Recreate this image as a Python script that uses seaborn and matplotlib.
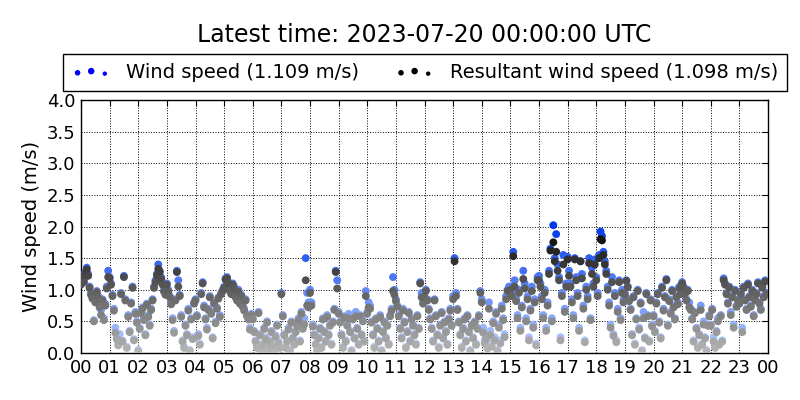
import numpy as np
import pandas as pd
import matplotlib
matplotlib.use("Agg")
import matplotlib.pyplot as plt
import matplotlib.dates as mdates
from matplotlib.colors import LinearSegmentedColormap
from matplotlib.ticker import FormatStrFormatter, MultipleLocator
import seaborn as sns

# ---- data: 3-minute samples, one list of 20 per hour ----
wind_speed_by_hour = [
    [1.10, 1.22, 1.15, 1.28, 1.35, 1.25, 1.05, 0.95, 0.88, 0.52, 0.82, 0.98, 0.90, 0.75, 0.68, 0.85, 0.55, 0.78, 1.05, 1.30],
    [1.20, 1.10, 0.92, 0.70, 0.40, 0.25, 0.15, 0.30, 0.95, 0.20, 1.22, 0.85, 0.10, 0.60, 0.35, 0.80, 1.05, 0.22, 0.65, 0.50],
    [0.05, 0.40, 0.65, 0.72, 0.55, 0.30, 0.78, 0.60, 0.45, 0.70, 0.85, 1.05, 1.15, 1.25, 1.40, 1.30, 1.20, 1.10, 1.00, 0.95],
    [1.10, 1.00, 0.90, 0.80, 0.55, 0.35, 0.85, 1.30, 1.15, 0.92, 0.60, 0.20, 0.10, 0.45, 0.30, 0.70, 0.05, 0.55, 0.25, 0.80],
    [0.85, 0.60, 0.30, 0.15, 0.95, 1.12, 0.75, 0.55, 0.40, 0.70, 0.90, 0.65, 0.25, 0.80, 0.50, 0.72, 0.88, 0.60, 0.95, 1.00],
    [1.05, 1.18, 1.20, 1.12, 1.00, 0.95, 1.10, 1.05, 0.90, 0.85, 1.00, 0.80, 0.92, 0.75, 0.70, 0.85, 0.60, 0.55, 0.40, 0.62],
    [0.55, 0.35, 0.20, 0.10, 0.65, 0.30, 0.05, 0.15, 0.40, 0.25, 0.50, 0.08, 0.20, 0.35, 0.12, 0.02, 0.28, 0.45, 0.18, 0.10],
    [0.95, 0.60, 0.30, 0.10, 0.20, 0.40, 0.05, 0.50, 0.25, 0.15, 0.35, 0.45, 0.55, 0.20, 0.65, 0.40, 0.55, 1.50, 0.95, 0.80],
    [1.00, 0.80, 0.45, 0.30, 0.15, 0.05, 0.25, 0.40, 0.10, 0.55, 0.35, 0.20, 0.60, 0.30, 0.45, 0.15, 0.50, 0.70, 1.30, 1.15],
    [0.65, 0.50, 0.30, 0.10, 0.58, 0.20, 0.45, 0.62, 0.35, 0.05, 0.55, 0.25, 0.65, 0.40, 0.15, 0.60, 0.30, 0.52, 0.20, 0.98],
    [0.65, 0.80, 0.75, 0.50, 0.30, 0.10, 0.55, 0.40, 0.20, 0.60, 0.05, 0.35, 0.50, 0.25, 0.45, 0.15, 0.60, 0.70, 1.20, 1.00],
    [0.85, 0.75, 0.60, 0.40, 0.25, 0.70, 0.50, 0.10, 0.35, 0.65, 0.20, 0.55, 0.45, 0.30, 0.15, 0.60, 0.40, 1.12, 0.95, 0.80],
    [0.95, 1.00, 0.85, 0.70, 0.55, 0.40, 0.20, 0.85, 0.60, 0.30, 0.10, 0.45, 0.65, 0.25, 0.50, 0.35, 0.15, 0.55, 0.70, 0.45],
    [0.90, 1.50, 0.95, 0.70, 0.50, 0.30, 0.10, 0.40, 0.55, 0.20, 0.60, 0.35, 0.05, 0.45, 0.25, 0.50, 0.15, 0.40, 0.60, 0.98],
    [0.85, 0.40, 0.20, 0.30, 0.10, 0.80, 0.35, 0.15, 0.50, 0.25, 0.65, 0.05, 0.45, 0.20, 0.75, 0.55, 0.30, 0.90, 1.00, 1.05],
    [1.05, 0.95, 1.60, 1.15, 0.85, 0.60, 1.00, 0.40, 0.75, 1.30, 1.10, 0.55, 0.90, 0.25, 0.70, 1.05, 0.45, 0.85, 0.15, 1.20],
    [1.22, 1.10, 0.90, 0.60, 1.00, 0.40, 0.80, 1.30, 1.65, 0.55, 2.02, 1.50, 1.88, 1.40, 1.20, 0.25, 0.95, 1.55, 0.70, 1.10],
    [1.52, 1.30, 1.10, 0.85, 0.60, 1.50, 1.20, 0.95, 0.40, 1.45, 1.25, 0.75, 0.20, 1.05, 0.90, 1.50, 0.55, 1.35, 1.10, 1.48],
    [1.20, 0.95, 1.55, 1.92, 1.85, 1.60, 1.45, 1.30, 1.05, 0.80, 0.45, 1.20, 0.30, 0.95, 0.20, 0.70, 1.15, 0.55, 1.00, 0.85],
    [0.95, 1.15, 1.05, 0.85, 0.70, 0.30, 0.90, 0.15, 0.55, 1.00, 0.40, 0.80, 0.05, 0.65, 0.25, 0.95, 0.60, 0.20, 0.85, 0.45],
    [0.60, 0.35, 0.80, 0.95, 0.50, 0.25, 1.05, 0.70, 0.90, 1.17, 0.45, 0.85, 0.65, 1.00, 0.75, 0.55, 0.90, 0.80, 1.05, 0.95],
    [1.12, 1.05, 0.95, 0.85, 1.00, 0.80, 0.70, 0.55, 0.20, 0.65, 0.40, 0.10, 0.30, 0.75, 0.15, 0.50, 0.25, 0.05, 0.45, 0.60],
    [0.45, 0.70, 0.25, 0.10, 0.35, 0.55, 0.15, 0.60, 0.20, 1.18, 1.10, 0.95, 0.80, 1.05, 0.65, 0.90, 0.45, 1.00, 0.75, 0.85],
    [0.80, 0.95, 0.40, 1.05, 0.85, 0.70, 1.10, 0.90, 0.75, 1.00, 0.60, 0.85, 0.95, 1.12, 0.80, 0.70, 1.05, 0.90, 1.15, 0.95],
]
resultant_by_hour = [
    [1.08, 1.20, 1.12, 1.26, 1.32, 1.22, 1.03, 0.92, 0.86, 0.50, 0.80, 0.96, 0.87, 0.72, 0.60, 0.83, 0.52, 0.75, 1.02, 1.20],
    [1.18, 1.08, 0.90, 0.67, 0.32, 0.22, 0.12, 0.20, 0.93, 0.18, 1.20, 0.83, 0.08, 0.57, 0.33, 0.78, 1.03, 0.20, 0.62, 0.48],
    [0.03, 0.38, 0.63, 0.70, 0.52, 0.28, 0.76, 0.57, 0.43, 0.68, 0.83, 1.03, 1.12, 1.23, 1.33, 1.28, 1.17, 1.08, 0.97, 0.92],
    [1.08, 0.97, 0.88, 0.77, 0.52, 0.32, 0.83, 1.28, 1.05, 0.90, 0.57, 0.18, 0.08, 0.43, 0.28, 0.67, 0.03, 0.53, 0.22, 0.78],
    [0.83, 0.58, 0.27, 0.13, 0.93, 1.10, 0.72, 0.53, 0.37, 0.68, 0.88, 0.62, 0.23, 0.78, 0.47, 0.70, 0.86, 0.57, 0.93, 0.98],
    [1.03, 1.16, 1.18, 1.10, 0.98, 0.93, 1.08, 1.02, 0.88, 0.83, 0.97, 0.78, 0.90, 0.73, 0.67, 0.83, 0.58, 0.53, 0.37, 0.60],
    [0.53, 0.33, 0.18, 0.08, 0.63, 0.28, 0.03, 0.13, 0.38, 0.22, 0.48, 0.06, 0.17, 0.33, 0.10, 0.01, 0.25, 0.43, 0.15, 0.08],
    [0.93, 0.58, 0.28, 0.08, 0.18, 0.37, 0.03, 0.48, 0.23, 0.13, 0.33, 0.43, 0.52, 0.18, 0.62, 0.38, 0.45, 1.15, 0.75, 0.72],
    [0.95, 0.75, 0.42, 0.28, 0.13, 0.03, 0.23, 0.38, 0.08, 0.53, 0.33, 0.18, 0.57, 0.28, 0.43, 0.13, 0.48, 0.68, 1.28, 1.02],
    [0.62, 0.48, 0.28, 0.08, 0.56, 0.18, 0.43, 0.55, 0.33, 0.03, 0.53, 0.23, 0.58, 0.38, 0.13, 0.58, 0.28, 0.50, 0.18, 0.90],
    [0.62, 0.72, 0.70, 0.48, 0.28, 0.08, 0.53, 0.38, 0.18, 0.57, 0.03, 0.33, 0.48, 0.23, 0.43, 0.13, 0.58, 0.67, 0.98, 0.92],
    [0.82, 0.73, 0.58, 0.38, 0.23, 0.67, 0.48, 0.08, 0.33, 0.63, 0.18, 0.53, 0.43, 0.28, 0.13, 0.58, 0.38, 1.10, 0.88, 0.78],
    [0.88, 0.98, 0.83, 0.68, 0.53, 0.38, 0.18, 0.83, 0.58, 0.28, 0.08, 0.43, 0.63, 0.23, 0.48, 0.33, 0.13, 0.53, 0.67, 0.43],
    [0.85, 1.45, 0.90, 0.68, 0.48, 0.28, 0.08, 0.38, 0.53, 0.18, 0.58, 0.33, 0.03, 0.43, 0.23, 0.48, 0.13, 0.38, 0.58, 0.95],
    [0.80, 0.32, 0.15, 0.22, 0.07, 0.70, 0.28, 0.10, 0.47, 0.20, 0.62, 0.03, 0.40, 0.15, 0.70, 0.52, 0.25, 0.85, 0.98, 0.98],
    [1.00, 0.90, 1.53, 1.05, 0.82, 0.55, 0.95, 0.35, 0.72, 1.17, 1.02, 0.50, 0.85, 0.20, 0.67, 0.98, 0.40, 0.80, 0.12, 1.15],
    [1.15, 1.05, 0.85, 0.55, 0.95, 0.35, 0.75, 1.25, 1.62, 0.50, 1.75, 1.45, 1.60, 1.30, 1.15, 0.20, 0.90, 1.40, 0.65, 1.05],
    [1.48, 1.22, 1.05, 0.80, 0.55, 1.48, 1.15, 0.90, 0.35, 1.45, 1.18, 0.70, 0.17, 1.00, 0.85, 1.42, 0.52, 1.25, 1.05, 1.40],
    [1.15, 0.90, 1.50, 1.80, 1.78, 1.55, 1.40, 1.25, 1.00, 0.75, 0.40, 1.12, 0.27, 0.90, 0.17, 0.65, 1.12, 0.52, 0.95, 0.80],
    [0.92, 1.14, 1.04, 0.82, 0.68, 0.28, 0.88, 0.13, 0.53, 0.98, 0.37, 0.78, 0.03, 0.55, 0.23, 0.93, 0.58, 0.18, 0.83, 0.42],
    [0.58, 0.33, 0.78, 0.93, 0.48, 0.23, 1.03, 0.67, 0.88, 1.15, 0.43, 0.82, 0.62, 0.98, 0.72, 0.53, 0.88, 0.77, 1.02, 0.93],
    [1.10, 1.03, 0.93, 0.83, 0.98, 0.72, 0.68, 0.53, 0.18, 0.63, 0.38, 0.08, 0.28, 0.68, 0.13, 0.45, 0.23, 0.03, 0.43, 0.58],
    [0.43, 0.68, 0.18, 0.08, 0.33, 0.50, 0.13, 0.58, 0.18, 1.15, 1.08, 0.93, 0.78, 1.03, 0.60, 0.88, 0.40, 0.98, 0.73, 0.83],
    [0.78, 0.93, 0.33, 1.03, 0.83, 0.68, 1.08, 0.88, 0.73, 0.98, 0.58, 0.83, 0.93, 1.10, 0.78, 0.68, 1.03, 0.88, 1.13, 0.93],
]
day_start = "2023-07-19 00:00"
day_end = "2023-07-20 00:00"
title_text = "Latest time: 2023-07-20 00:00:00 UTC"
label_ws = "Wind speed (1.109 m/s)"
label_rs = "Resultant wind speed (1.098 m/s)"
y_label = "Wind speed (m/s)"

ws = [v for hour in wind_speed_by_hour for v in hour]
rs = [v for hour in resultant_by_hour for v in hour]
times = pd.date_range(day_start, periods=len(ws), freq="3min")
df = pd.DataFrame({"time": times, "ws": ws, "rs": rs})

blue_cmap = LinearSegmentedColormap.from_list("b", [(0.75, 0.83, 1.0), (0.0, 0.22, 0.92)])
grey_cmap = LinearSegmentedColormap.from_list("g", [(0.72, 0.72, 0.72), (0.0, 0.0, 0.0)])

sns.set_style("white")
plt.rcParams["font.family"] = ["DejaVu Sans"]
plt.rcParams.update({"text.color": "black", "axes.labelcolor": "black",
                     "xtick.color": "black", "ytick.color": "black"})

fig, ax = plt.subplots(figsize=(8, 4), dpi=100)
fig.subplots_adjust(left=0.10125, right=0.96, bottom=0.1175, top=0.75)

sns.scatterplot(data=df, x="time", y="ws", hue="ws", palette=blue_cmap, hue_norm=(0, 2),
                s=32, linewidth=0, legend=False, ax=ax, zorder=3)
sns.scatterplot(data=df, x="time", y="rs", hue="rs", palette=grey_cmap, hue_norm=(0, 2),
                s=32, linewidth=0, legend=False, ax=ax, zorder=4)

ax.set_xlim(pd.Timestamp(day_start), pd.Timestamp(day_end))
ax.set_ylim(0, 4.0)
ax.xaxis.set_major_locator(mdates.HourLocator(interval=1))
ax.xaxis.set_major_formatter(mdates.DateFormatter("%H"))
ax.yaxis.set_major_locator(MultipleLocator(0.5))
ax.yaxis.set_major_formatter(FormatStrFormatter("%.1f"))
ax.set_xlabel("")
ax.set_ylabel(y_label, fontsize=14)
ax.tick_params(direction="in", length=4, width=0.8, top=True, right=True,
               labelsize=13, pad=4, colors="black")
ax.grid(True, color="black", linestyle=":", linewidth=0.7)
ax.set_axisbelow(True)
for sp in ax.spines.values():
    sp.set_color("black")
    sp.set_linewidth(1.0)

fig.text(0.53, 0.9125, title_text, ha="center", va="center", fontsize=17, color="black")

h1 = ax.scatter([], [], s=20, c="blue", linewidth=0)
h1.set_sizes([10, 22])
h2 = ax.scatter([], [], s=20, c="black", linewidth=0)
h2.set_sizes([10, 22])
leg = fig.legend([h1, h2], [label_ws, label_rs], loc="center", ncol=2,
                 bbox_to_anchor=(0.531, 0.819), fontsize=14, scatterpoints=3,
                 scatteryoffsets=[0.375, 0.5, 0.3125], frameon=True, fancybox=False,
                 edgecolor="black", framealpha=1, borderpad=0.45, handletextpad=0.8,
                 columnspacing=1.85, handlelength=2.0)
leg.get_frame().set_linewidth(1.0)

fig.savefig("out.png", dpi=100)
